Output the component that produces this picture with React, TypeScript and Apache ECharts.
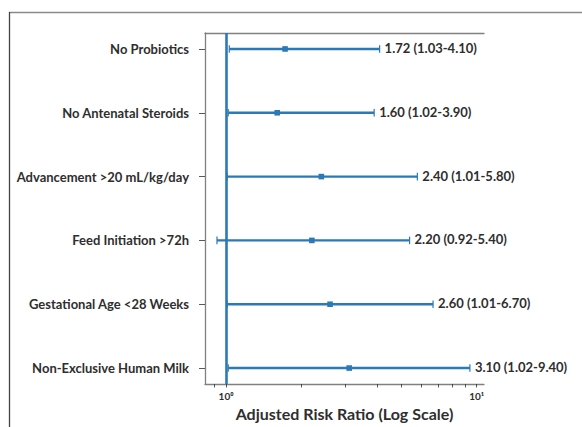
import React, { useEffect, useRef } from "react";
import * as echarts from "echarts";

const categories = [
  "No Probiotics",
  "No Antenatal Steroids",
  "Advancement >20 mL/kg/day",
  "Feed Initiation >72h",
  "Gestational Age <28 Weeks",
  "Non-Exclusive Human Milk",
];
const estimates = [1.72, 1.6, 2.4, 2.2, 2.6, 3.1];
const lows = [1.03, 1.02, 1.01, 0.92, 1.01, 1.02];
const highs = [4.1, 3.9, 5.8, 5.4, 6.7, 9.4];
const categoryPositions = [0, 1, 2, 3, 4, 5];
const majorTicks = [1, 10];
const allTicks = [0.9, 1, 2, 3, 4, 5, 6, 7, 8, 9, 10];
const tickLabels: Record<number, string> = { 1: "10\u2070", 10: "10\u00b9" };
const referenceValue = 1;

const BLUE = "#2a79b8";
const TEXT = "#2e2e2e";
const SPINE = "#808080";
const FONT = "Lato, 'Open Sans', sans-serif";

export default function App() {
  const ref = useRef<HTMLDivElement>(null);
  useEffect(() => {
    if (!ref.current) return;
    const chart = echarts.init(ref.current, undefined, { renderer: "svg" });
    const data = categories.map((_, i) => [
      categoryPositions[i],
      estimates[i],
      lows[i],
      highs[i],
    ]);
    const xMin = 0.824;
    const xMax = 10.7;
    const baseX = {
      type: "log" as const,
      logBase: 10,
      min: xMin,
      max: xMax,
      splitLine: { show: false },
    };
    chart.setOption({
      animation: false,
      backgroundColor: "#ffffff",
      grid: { left: 205, top: 33, right: 98, bottom: 43, containLabel: false },
      graphic: [
        {
          type: "line",
          shape: { x1: 9, y1: 12.5, x2: 582, y2: 12.5 },
          style: { stroke: "#8a8a8a", lineWidth: 1.3 },
          silent: true,
        },
        {
          type: "line",
          shape: { x1: 9.5, y1: 12, x2: 9.5, y2: 427 },
          style: { stroke: "#444444", lineWidth: 1.3 },
          silent: true,
        },
      ],
      xAxis: [
        {
          ...baseX,
          position: "bottom",
          axisLine: { show: true, onZero: false, lineStyle: { color: SPINE, width: 1.3 } },
          axisTick: {
            show: true,
            customValues: allTicks,
            length: 3.5,
            lineStyle: { color: TEXT, width: 0.8 },
          },
          axisLabel: {
            show: true,
            customValues: majorTicks,
            formatter: (v: number) => tickLabels[Math.round(v)] ?? "",
            fontFamily: FONT,
            fontSize: 10,
            fontWeight: "bold",
            color: TEXT,
            margin: 7,
          },
          name: "Adjusted Risk Ratio (Log Scale)",
          nameLocation: "middle",
          nameGap: 20,
          nameTextStyle: {
            fontFamily: FONT,
            fontSize: 16,
            fontWeight: "bold",
            color: TEXT,
          },
        },
        {
          ...baseX,
          position: "top",
          axisLine: { show: true, onZero: false, lineStyle: { color: SPINE, width: 1.3 } },
          axisTick: { show: false },
          axisLabel: { show: false },
        },
      ],
      yAxis: {
        type: "value",
        min: -0.25,
        max: 5.25,
        inverse: true,
        splitLine: { show: false },
        axisLine: { show: true, onZero: false, lineStyle: { color: SPINE, width: 1.3 } },
        axisTick: {
          show: true,
          customValues: categoryPositions,
          length: 6,
          lineStyle: { color: TEXT, width: 0.8 },
        },
        axisLabel: {
          show: true,
          customValues: categoryPositions,
          formatter: (v: number) => categories[Math.round(v)] ?? "",
          fontFamily: FONT,
          fontSize: 13,
          fontWeight: "bold",
          color: TEXT,
          margin: 16,
        },
      },
      series: [
        {
          type: "custom",
          xAxisIndex: 0,
          yAxisIndex: 0,
          encode: { x: [1, 2, 3], y: 0 },
          data,
          renderItem: (params: any, api: any) => {
            const y = api.value(0);
            const est = api.value(1);
            const lo = api.value(2);
            const hi = api.value(3);
            const pLo = api.coord([lo, y]);
            const pHi = api.coord([hi, y]);
            const pEst = api.coord([est, y]);
            const cap = 3.8;
            const m = 2.8;
            const label = `${est.toFixed(2)} (${lo.toFixed(2)}-${hi.toFixed(2)})`;
            return {
              type: "group",
              children: [
                {
                  type: "line",
                  shape: { x1: pLo[0], y1: pLo[1], x2: pHi[0], y2: pHi[1] },
                  style: { stroke: BLUE, lineWidth: 2.4 },
                },
                {
                  type: "line",
                  shape: { x1: pLo[0], y1: pLo[1] - cap, x2: pLo[0], y2: pLo[1] + cap },
                  style: { stroke: BLUE, lineWidth: 1.2 },
                },
                {
                  type: "line",
                  shape: { x1: pHi[0], y1: pHi[1] - cap, x2: pHi[0], y2: pHi[1] + cap },
                  style: { stroke: BLUE, lineWidth: 1.2 },
                },
                {
                  type: "rect",
                  shape: { x: pEst[0] - m, y: pEst[1] - m, width: 2 * m, height: 2 * m },
                  style: { fill: BLUE },
                },
                {
                  type: "text",
                  x: pHi[0] + 5,
                  y: pHi[1] - 1,
                  style: {
                    text: label,
                    fontFamily: FONT,
                    fontSize: 13,
                    fontWeight: "bold",
                    fill: TEXT,
                    verticalAlign: "middle",
                    align: "left",
                  },
                },
              ],
            };
          },
          markLine: {
            silent: true,
            symbol: "none",
            label: { show: false },
            lineStyle: { color: BLUE, width: 2.6, type: "solid" },
            data: [{ xAxis: referenceValue }],
          },
        },
      ],
    });
    return () => chart.dispose();
  }, []);
  return (
    <div
      ref={ref}
      style={{ position: "fixed", left: 0, top: 0, width: 582, height: 427 }}
    />
  );
}
